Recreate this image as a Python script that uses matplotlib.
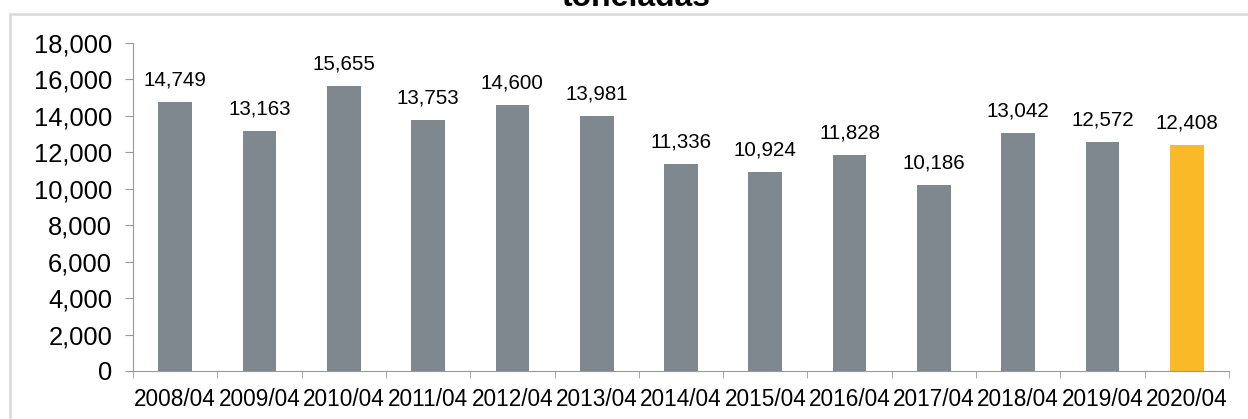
import matplotlib
matplotlib.use("Agg")
from matplotlib import pyplot as plt
from matplotlib.patches import Rectangle
import numpy as np

plt.rcParams['font.family'] = ['Liberation Sans', 'DejaVu Sans']

years = ["2008/04", "2009/04", "2010/04", "2011/04", "2012/04", "2013/04", "2014/04",
         "2015/04", "2016/04", "2017/04", "2018/04", "2019/04", "2020/04"]
values = [14749, 13163, 15655, 13753, 14600, 13981, 11336, 10924, 11828, 10186, 13042, 12572, 12408]
gray = "#7F888E"
yellow = "#F9B928"
colors = [gray] * (len(values) - 1) + [yellow]

W, H = 1248, 419
fig = plt.figure(figsize=(W / 100, H / 100), dpi=100)
ax = fig.add_axes([133 / W, 1 - 371 / H, (1229 - 133) / W, (371 - 43) / H])

x = np.arange(len(values))
ax.bar(x, values, width=0.4, color=colors)
for xi, v in zip(x, values):
    ax.annotate(f"{v:,}", (xi, v), xytext=(0, 9), textcoords="offset points",
                ha="center", va="bottom", fontsize=14.8)

ax.set_xlim(-0.5, len(values) - 0.5)
ax.set_ylim(0, 18000)
ax.set_yticks(range(0, 18001, 2000))
ax.set_yticklabels([f"{t:,}" for t in range(0, 18001, 2000)], fontsize=18.4)
ax.set_xticks(x)
ax.set_xticklabels(years, fontsize=16.3)
ax.tick_params(axis="x", length=0, pad=12)
ax.set_xticks(np.arange(-0.5, len(values), 1), minor=True)
ax.tick_params(axis="x", which="minor", length=5, color="#999999")
ax.tick_params(axis="y", length=6, color="#999999", pad=9)

for s in ["top", "right"]:
    ax.spines[s].set_visible(False)
for s in ["left", "bottom"]:
    ax.spines[s].set_color("#999999")

fig.patches.append(Rectangle((10 / W, -0.1), 1, 1.1 - 14 / H, transform=fig.transFigure,
                             fill=False, edgecolor="#D9D9D9", linewidth=1.8))
fig.text(636 / W, 1 - 6 / H, "toneladas", ha="center", va="baseline",
         fontsize=23, fontweight="bold")

fig.savefig("out.png", dpi=100)
